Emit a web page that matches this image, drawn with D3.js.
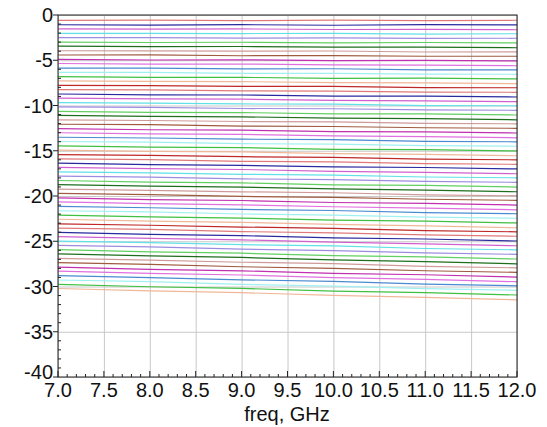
<html><head>
<script src="https://d3js.org/d3.v7.min.js"></script>
<style>
  body { margin: 0; background: #fff; }
  text { font-family: "Liberation Sans", Arial, sans-serif; fill: #111; }
  .grid line { stroke: #c8c8c8; stroke-width: 1; }
  .grid .domain { stroke: none; }
  .trace { fill: none; stroke-width: 1.2; }
</style>
</head>
<body>
<svg id="chart" width="547" height="427"></svg>
<script>
// frequency points (GHz)
const freqs = [7, 8, 9, 10, 11, 12];

// attenuation states, S21 in dB, one row per state
const states = [
  [-0.60,-0.56,-0.62,-0.57,-0.62,-0.58],
  [-1.08,-1.11,-1.07,-1.13,-1.07,-1.10],
  [-1.54,-1.57,-1.54,-1.60,-1.59,-1.63],
  [-2.03,-2.02,-2.05,-2.02,-2.11,-2.07],
  [-2.51,-2.49,-2.56,-2.53,-2.59,-2.57],
  [-2.99,-3.04,-3.01,-3.09,-3.04,-3.09],
  [-3.45,-3.49,-3.48,-3.56,-3.56,-3.62],
  [-3.95,-3.96,-4.00,-3.98,-4.09,-4.07],
  [-4.42,-4.41,-4.50,-4.48,-4.56,-4.56],
  [-4.90,-4.97,-4.95,-5.05,-5.01,-5.08],
  [-5.36,-5.42,-5.42,-5.52,-5.54,-5.61],
  [-5.86,-5.88,-5.95,-5.94,-6.06,-6.06],
  [-6.34,-6.35,-6.45,-6.45,-6.54,-6.55],
  [-6.81,-6.89,-6.89,-7.00,-6.98,-7.06],
  [-7.27,-7.34,-7.36,-7.47,-7.51,-7.59],
  [-7.77,-7.81,-7.89,-7.89,-8.03,-8.04],
  [-8.25,-8.27,-8.39,-8.41,-8.52,-8.54],
  [-8.73,-8.83,-8.84,-8.97,-8.96,-9.06],
  [-9.18,-9.27,-9.30,-9.43,-9.48,-9.58],
  [-9.68,-9.73,-9.83,-9.85,-10.01,-10.03],
  [-10.16,-10.20,-10.33,-10.36,-10.49,-10.53],
  [-10.64,-10.75,-10.78,-10.92,-10.93,-11.05],
  [-11.10,-11.21,-11.25,-11.40,-11.46,-11.58],
  [-11.59,-11.66,-11.77,-11.81,-11.98,-12.02],
  [-12.07,-12.12,-12.28,-12.32,-12.46,-12.52],
  [-12.55,-12.68,-12.72,-12.88,-12.91,-13.04],
  [-13.01,-13.13,-13.19,-13.35,-13.43,-13.57],
  [-13.51,-13.59,-13.72,-13.77,-13.96,-14.01],
  [-13.98,-14.05,-14.22,-14.27,-14.43,-14.50],
  [-14.46,-14.60,-14.66,-14.84,-14.88,-15.02],
  [-14.92,-15.06,-15.13,-15.31,-15.40,-15.55],
  [-15.42,-15.52,-15.66,-15.73,-15.93,-16.00],
  [-15.90,-15.98,-16.17,-16.24,-16.42,-16.50],
  [-16.37,-16.53,-16.61,-16.79,-16.85,-17.01],
  [-16.83,-16.98,-17.07,-17.27,-17.38,-17.54],
  [-17.33,-17.45,-17.60,-17.69,-17.90,-17.99],
  [-17.81,-17.91,-18.11,-18.20,-18.39,-18.49],
  [-18.29,-18.46,-18.56,-18.76,-18.83,-19.01],
  [-18.74,-18.91,-19.01,-19.22,-19.35,-19.53],
  [-19.24,-19.37,-19.54,-19.64,-19.87,-19.98],
  [-19.72,-19.84,-20.05,-20.16,-20.36,-20.48],
  [-20.20,-20.39,-20.50,-20.72,-20.81,-21.00],
  [-20.66,-20.84,-20.97,-21.19,-21.33,-21.53],
  [-21.15,-21.30,-21.48,-21.60,-21.84,-21.96],
  [-21.63,-21.76,-21.99,-22.11,-22.33,-22.46],
  [-22.11,-22.31,-22.44,-22.67,-22.78,-22.98],
  [-22.57,-22.77,-22.91,-23.14,-23.30,-23.51],
  [-23.07,-23.23,-23.43,-23.57,-23.83,-23.96],
  [-23.54,-23.69,-23.93,-24.07,-24.30,-24.45],
  [-24.02,-24.24,-24.38,-24.63,-24.75,-24.97],
  [-24.48,-24.69,-24.85,-25.10,-25.28,-25.50],
  [-24.98,-25.16,-25.37,-25.52,-25.80,-25.95],
  [-25.46,-25.62,-25.88,-26.03,-26.28,-26.45],
  [-25.93,-26.17,-26.32,-26.59,-26.72,-26.96],
  [-26.39,-26.62,-26.79,-27.06,-27.25,-27.49],
  [-26.89,-27.08,-27.32,-27.48,-27.77,-27.94],
  [-27.37,-27.55,-27.82,-27.99,-28.26,-28.44],
  [-27.85,-28.10,-28.27,-28.55,-28.70,-28.96],
  [-28.30,-28.54,-28.73,-29.01,-29.22,-29.47],
  [-28.80,-29.01,-29.26,-29.43,-29.74,-29.92],
  [-29.28,-29.47,-29.76,-29.95,-30.23,-30.42],
  [-29.76,-30.03,-30.21,-30.51,-30.67,-30.94],
  [-30.22,-30.48,-30.68,-30.98,-31.20,-31.47]
];

// trace colour cycle
const traceColors = ["#e07a7a","#2a2aa0","#d060d0","#60e0e8","#9c8ce0","#60d060","#1e6e1e","#d09a9a",
                     "#a05a40","#c030b0","#e070e0","#4a8ad0","#a0f0f0","#40c040","#f0b898","#c02828"];

const xTicks = [7.0, 7.5, 8.0, 8.5, 9.0, 9.5, 10.0, 10.5, 11.0, 11.5, 12.0];
const yTicks = [0, -5, -10, -15, -20, -25, -30, -35, -40];
const xLabel = "freq, GHz";

// housekeeping
let svg = d3.select("svg#chart");
let margin = { top: 15, right: 30, bottom: 50, left: 58 };
let w = 517 - margin.left;
let h = 377 - margin.top;

let x = d3.scaleLinear().domain([7, 12]).range([0, w]);
let y = d3.scaleLinear().domain([-40, 0]).range([h, 0]);

let g = svg.append("g").attr("transform", "translate(" + margin.left + "," + margin.top + ")");

// gridlines
g.append("g").attr("class", "grid")
  .attr("transform", "translate(0," + h + ")")
  .call(d3.axisBottom(x).tickValues(xTicks).tickSize(-h).tickFormat(""));
g.append("g").attr("class", "grid")
  .call(d3.axisLeft(y).tickValues(yTicks).tickSize(-w).tickFormat(""));

// traces
let line = d3.line()
  .x((d, i) => x(freqs[i]))
  .y(d => y(d));

g.append("g").selectAll("path")
  .data(states)
  .enter().append("path")
  .attr("class", "trace")
  .attr("stroke", (d, i) => traceColors[i % traceColors.length])
  .attr("d", line);

// frame
g.append("rect").attr("width", w).attr("height", h)
  .attr("fill", "none").attr("stroke", "#222").attr("stroke-width", 1);

// minor ticks (inward)
let xMinor = d3.range(70, 121).map(v => v / 10);
g.append("g").selectAll("line").data(xMinor).enter().append("line")
  .attr("x1", d => x(d)).attr("x2", d => x(d))
  .attr("y1", h).attr("y2", (d, i) => h - (i % 5 == 0 ? 6 : 3))
  .attr("stroke", "#222");
let yMinor = d3.range(-40, 1);
g.append("g").selectAll("line").data(yMinor).enter().append("line")
  .attr("x1", 0).attr("x2", (d, i) => (i % 5 == 0 ? -5 : 3))
  .attr("y1", d => y(d)).attr("y2", d => y(d))
  .attr("stroke", "#222");

// tick labels
g.append("g").selectAll("text").data(xTicks).enter().append("text")
  .attr("x", d => x(d)).attr("y", h + 20)
  .attr("text-anchor", "middle").style("font-size", "20px")
  .text(d => d.toFixed(1));
// the bottom label sits a little higher so it clears "7.0"
g.append("g").selectAll("text").data(yTicks).enter().append("text")
  .attr("x", -5).attr("y", d => y(d) - (d == -40 ? 5 : 0)).attr("dy", "0.35em")
  .attr("text-anchor", "end").style("font-size", "20px")
  .text(d => d);

svg.append("text")
  .attr("x", 287).attr("y", 421)
  .attr("text-anchor", "middle").style("font-size", "20px")
  .text(xLabel);
</script>
</body>
</html>
